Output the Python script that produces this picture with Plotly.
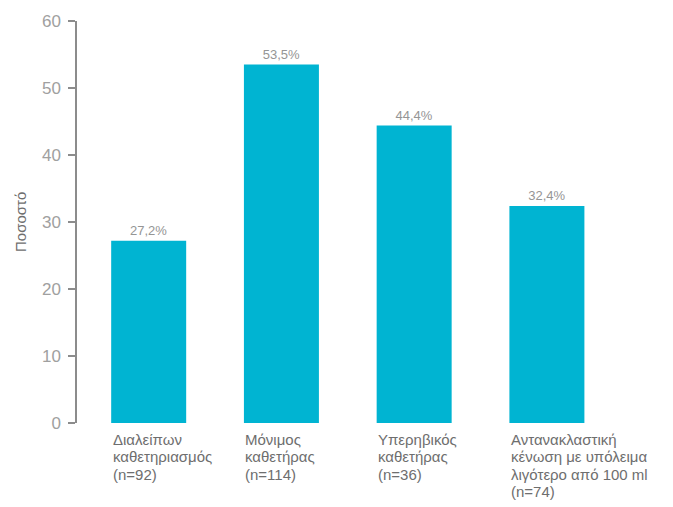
import plotly.graph_objects as go

category_lines = [
    ["Διαλείπων", "καθετηριασμός", "(n=92)"],
    ["Μόνιμος", "καθετήρας", "(n=114)"],
    ["Υπερηβικός", "καθετήρας", "(n=36)"],
    ["Αντανακλαστική", "κένωση με υπόλειμα", "λιγότερο από 100 ml", "(n=74)"],
]
values = [27.2, 53.5, 44.4, 32.4]
value_labels = ["27,2%", "53,5%", "44,4%", "32,4%"]
y_ticks = [0, 10, 20, 30, 40, 50, 60]

FONT = "Liberation Sans, Arial, sans-serif"
xs = list(range(len(values)))

fig = go.Figure()
fig.add_trace(go.Bar(
    x=xs, y=values, width=0.565,
    marker=dict(color="#00B4D2", line=dict(width=0)),
    text=value_labels, textposition="outside",
    textfont=dict(family=FONT, size=13, color="#959595"),
    cliponaxis=False, hoverinfo="skip",
))

LINE_PITCH = 17.3
for xi, lines in zip(xs, category_lines):
    for k, line in enumerate(lines):
        fig.add_annotation(x=xi, y=0, xref="x", yref="paper", text=line,
                           showarrow=False, xanchor="left", yanchor="top",
                           align="left", xshift=-38, yshift=-6 - k * LINE_PITCH,
                           font=dict(family=FONT, size=15, color="#6e6e6e"))

fig.add_annotation(x=0, y=0.5, xref="paper", yref="paper", text="Ποσοστό",
                   showarrow=False, textangle=-90, xanchor="center", yanchor="middle",
                   xshift=-57, font=dict(family=FONT, size=15, color="#6e6e6e"))

fig.update_layout(
    width=673, height=507,
    margin=dict(l=77, r=73, t=21, b=84),
    paper_bgcolor="white", plot_bgcolor="white",
    showlegend=False,
    xaxis=dict(range=[-0.54, 3.40], showgrid=False, zeroline=False,
               showline=False, showticklabels=False, ticks=""),
    yaxis=dict(range=[0, 60], tickvals=y_ticks, showgrid=False, zeroline=False,
               showline=True, linecolor="#8c8c8c", linewidth=1.5,
               ticks="outside", ticklen=7, tickcolor="#8c8c8c", tickwidth=1.5,
               ticklabelstandoff=4,
               tickfont=dict(family=FONT, size=17, color="#a0a0a0")),
)

fig.write_html("out.html", config={"displayModeBar": False},
               post_script="document.body.style.margin='0';document.body.style.overflow='hidden';")
